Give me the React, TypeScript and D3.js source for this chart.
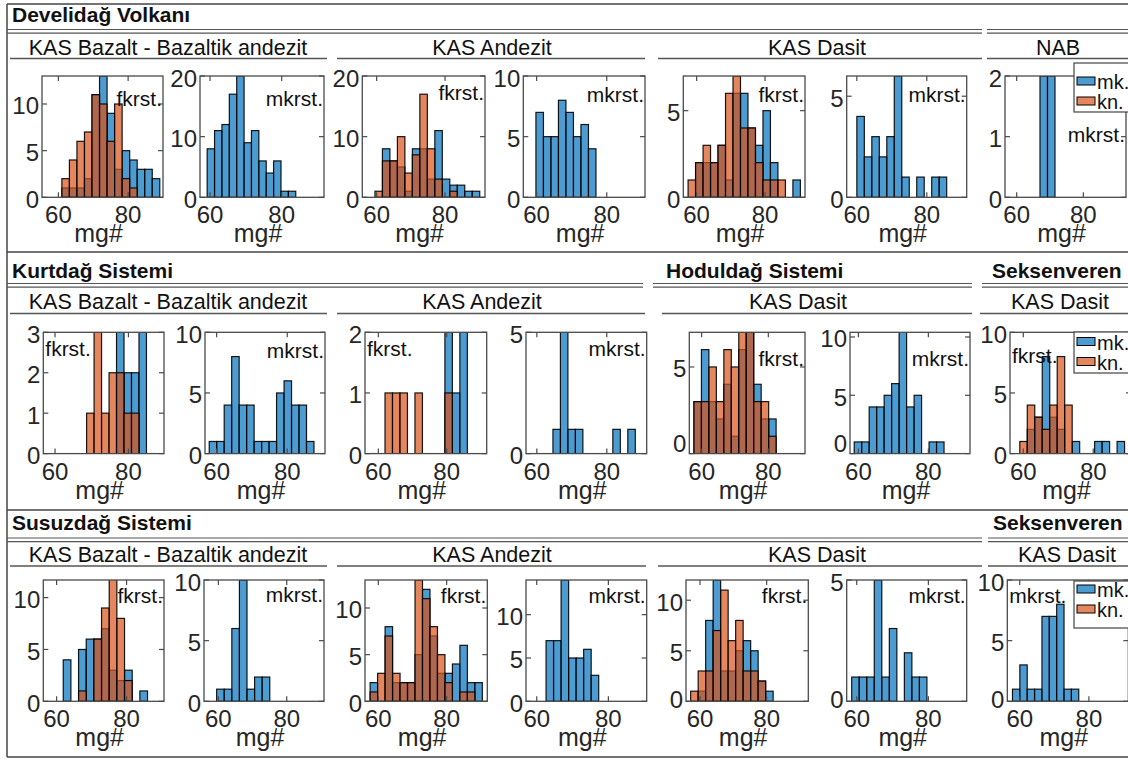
import React from "react";
import * as d3 from "d3";

// mg# histogram counts (mk = blue, kn = orange)
// Develidağ Volkanı
const devBazFkMk = [1, 1, 1, 2, 11, 13, 9, 3, 5, 4, 3, 3, 2];
const devBazFkKn = [2, 4, 6, 7, 11, 10, 6, 10, 2, 1, 0, 0, 0];
const devBazMkMk = [8, 11, 12, 17, 20, 9, 11, 6, 4, 6, 1, 1];
const devAndFkMk = [0, 8, 6, 5, 1, 8, 8, 3, 11, 3, 2, 2, 1, 1];
const devAndFkKn = [1, 6, 6, 10, 4, 7, 17, 8, 3, 0, 1, 0, 0, 0];
const devAndMkMk = [7, 5, 5, 8, 7, 5, 6, 4];
const devDasFkMk = [0, 2, 2, 2, 3, 1, 6, 6, 4, 3, 5, 2, 0, 0, 1];
const devDasFkKn = [1, 2, 3, 2, 3, 6, 7, 4, 4, 2, 1, 1, 1, 0, 0];
const devDasMkMk = [4, 2, 3, 2, 3, 6, 1, 0, 1, 0, 1, 1];
const devNabMkMk = [2, 2];
// Kurtdağ / Hoduldağ / Seksenveren
const kurBazFkMk = [0, 0, 0, 0, 3, 2, 2, 3];
const kurBazFkKn = [1, 3, 1, 2, 2, 1, 1, 0];
const kurBazMkMk = [1, 1, 4, 8, 4, 4, 1, 1, 1, 5, 6, 4, 4, 1];
const kurAndFkMk = [0, 0, 0, 0, 0, 0, 0, 0, 2, 1, 2];
const kurAndFkKn = [1, 1, 1, 0, 1, 0, 0, 0, 1, 0, 0];
const kurAndMkMk = [1, 5, 1, 1, 0, 0, 0, 0, 1, 0, 1];
const hodDasFkMk = [3, 6, 3, 2, 4, 1, 6, 7, 4, 2, 2];
const hodDasFkKn = [3, 3, 5, 3, 6, 5, 7, 7, 3, 3, 1];
const hodDasMkMk = [1, 1, 4, 4, 5, 6, 11, 4, 5, 0, 1, 1];
const sekDasFkMk = [0, 2, 3, 8, 3, 2, 0, 1, 0, 0, 1, 1, 0, 1];
const sekDasFkKn = [1, 4, 3, 2, 4, 8, 4, 0, 0, 0, 0, 0, 0, 0];
// Susuzdağ / Seksenveren
const susBazFkMk = [4, 0, 5, 6, 6, 7, 3, 2, 3, 0, 1];
const susBazFkKn = [0, 0, 1, 0, 6, 9, 12, 8, 2, 0, 0];
const susBazMkMk = [1, 1, 6, 10, 1, 2, 2];
const susAndFkMk = [2, 0, 8, 2, 2, 2, 5, 12, 7, 3, 3, 4, 6, 2, 2];
const susAndFkKn = [1, 3, 7, 3, 2, 2, 13, 11, 8, 5, 2, 0, 1, 1, 0];
const susAndMkMk = [7, 7, 14, 5, 5, 6, 3];
const susDasFkMk = [0, 1, 8, 12, 3, 3, 5, 6, 5, 2, 1];
const susDasFkKn = [1, 3, 3, 7, 11, 6, 8, 3, 3, 2, 0];
const susDasMkMk = [1, 1, 1, 5, 1, 3, 0, 2, 1, 1];
const sekDasMkMk = [1, 3, 1, 1, 7, 7, 8, 1, 1];

// panels in reading order, 7 per row
const mkSeries = [
  devBazFkMk, devBazMkMk, devAndFkMk, devAndMkMk, devDasFkMk, devDasMkMk, devNabMkMk,
  kurBazFkMk, kurBazMkMk, kurAndFkMk, kurAndMkMk, hodDasFkMk, hodDasMkMk, sekDasFkMk,
  susBazFkMk, susBazMkMk, susAndFkMk, susAndMkMk, susDasFkMk, susDasMkMk, sekDasMkMk,
];
const knSeries = [
  devBazFkKn, null, devAndFkKn, null, devDasFkKn, null, null,
  kurBazFkKn, null, kurAndFkKn, null, hodDasFkKn, null, sekDasFkKn,
  susBazFkKn, null, susAndFkKn, null, susDasFkKn, null, null,
];
const binStart = [
  61.0, 59.2, 59.5, 59.8, 57.5, 60.0, 67.0,
  68.6, 57.9, 61.95, 64.6, 57.7, 58.8, 59.0,
  61.9, 59.5, 57.6, 62.6, 57.2, 58.6, 57.9,
];
const binWidth = [
  2.16, 2.06, 2.19, 2.14, 2.19, 2.14, 2.25,
  2.04, 2.12, 2.19, 2.14, 2.24, 2.14, 2.14,
  2.19, 2.22, 2.19, 2.1, 2.25, 2.1, 2.13,
];
const xMin = [
  55.3, 57.2, 55.8, 56.2, 56.1, 57.1, 56.5,
  56.8, 56.7, 56.1, 56.9, 56.3, 57.6, 56.2,
  56.2, 55.8, 56.1, 57.0, 55.8, 57.2, 56.4,
];
const xMax = [
  90.0, 91.8, 91.7, 90.9, 91.7, 91.4, 92.8,
  89.7, 90.7, 91.7, 91.4, 91.0, 91.9, 90.8,
  90.7, 90.9, 91.9, 90.7, 92.5, 90.7, 91.4,
];
const yMax = [
  13, 20, 20, 10, 7, 6, 2,
  3, 10, 2, 5, 7, 10.4, 10,
  11.7, 10, 13, 14, 12, 5, 10,
];
const yTicks = [
  [0, 5, 10], [0, 10, 20], [0, 10, 20], [0, 5, 10], [0, 5], [0, 5], [0, 1, 2],
  [0, 1, 2, 3], [0, 5, 10], [0, 1, 2], [0, 5], [0, 5], [0, 5, 10], [0, 5, 10],
  [0, 5, 10], [0, 5, 10], [0, 5, 10], [0, 5, 10], [0, 5, 10], [0, 5], [0, 5, 10],
];
const xTicks = [60, 80];
const panelLabels = [
  "fkrst.", "mkrst.", "fkrst.", "mkrst.", "fkrst.", "mkrst.", "mkrst.",
  "fkrst.", "mkrst.", "fkrst.", "mkrst.", "fkrst.", "mkrst.", "fkrst.",
  "fkrst.", "mkrst.", "fkrst.", "mkrst.", "fkrst.", "mkrst.", "mkrst.",
];
const legendNames = ["mk.", "kn."];

// headers
const rowTitles = [
  ["Develidağ Volkanı"],
  ["Kurtdağ Sistemi", "Hoduldağ Sistemi", "Seksenveren"],
  ["Susuzdağ Sistemi", "Seksenveren"],
];
const groupTitles = [
  ["KAS Bazalt - Bazaltik andezit", "KAS Andezit", "KAS Dasit", "NAB"],
  ["KAS Bazalt - Bazaltik andezit", "KAS Andezit", "KAS Dasit", "KAS Dasit"],
  ["KAS Bazalt - Bazaltik andezit", "KAS Andezit", "KAS Dasit", "KAS Dasit"],
];

// ---- layout ----
const W = 1128;
const H = 761;
const FONT = "'Liberation Sans', Arial, Helvetica, sans-serif";
const MK_COLOR = "#0072BD";
const KN_COLOR = "#D95319";

const rowGeom = [
  { sep: 4, title: 22, dbl: 29.5, sub: 55, line: 58.5 },
  { sep: 252, title: 278, dbl: 283.5, sub: 309, line: 313.5 },
  { sep: 510, title: 530, dbl: 538, sub: 562, line: 566 },
];
const titleX = [[12], [12, 666, 992], [12, 993]];
const dblSegs = [
  [[7, 982], [987, 1128]],
  [[7, 643], [653, 972], [982, 1128]],
  [[7, 982], [988, 1128]],
];
const subSegs = [
  [[10, 327], [337, 645], [658, 982], [987, 1128]],
  [[10, 327], [337, 645], [662, 972], [980, 1128]],
  [[10, 327], [337, 646], [658, 982], [988, 1128]],
];
const subCx = [
  [168, 492, 817, 1058],
  [168, 482, 798, 1060],
  [168, 492, 817, 1067],
];
const boxTop = [76, 332.3, 580];
const boxH = 121.3;
const boxLeft = [
  [42, 200, 362.3, 523.3, 683.3, 846.7, 1005],
  [43.3, 205, 365, 526, 689.3, 850, 1010],
  [43.3, 204, 365, 526, 686, 846.7, 1007.3],
];
const boxW = [
  [121, 124, 122.7, 121.7, 121.7, 120, 121],
  [120.7, 120, 121.7, 120.7, 115.7, 120, 121],
  [120.7, 120, 122.3, 120.7, 122.3, 120, 121],
];
const labelOnLeft = [7, 9, 13, 20];
const labelDy = [
  30, 30, 24, 26, 26, 26, 66,
  24, 26, 24, 24, 34, 34, 31,
  23, 22, 23, 23, 23, 23, 23,
];
const zeroLift: Record<number, number> = { 11: 12, 12: 12, 18: 4, 19: 4, 20: 4 };
const legendGeom = [
  { top: 63, bottom: 112, cy: 81 },
  { top: 332, bottom: 373, cy: 341.5 },
  { top: 581, bottom: 628, cy: 589 },
];

function Panel({ i }: { i: number }) {
  const row = Math.floor(i / 7);
  const col = i % 7;
  const left = boxLeft[row][col];
  const w = boxW[row][col];
  const top = boxTop[row];
  const x = d3.scaleLinear().domain([xMin[i], xMax[i]]).range([left, left + w]);
  const y = d3.scaleLinear().domain([0, yMax[i]]).range([top + boxH, top]);
  const clipId = `clip-${i}`;

  const bars = (counts: number[] | null, color: string) =>
    (counts || []).map((c, k) => {
      if (c <= 0) return null;
      const a = x(binStart[i] + k * binWidth[i]);
      const b = x(binStart[i] + (k + 1) * binWidth[i]);
      return (
        <rect
          key={`${color}-${k}`}
          x={a}
          width={b - a}
          y={y(c)}
          height={y(0) - y(c)}
          fill={color}
          fillOpacity={0.7}
          stroke="#000"
          strokeOpacity={0.9}
          strokeWidth={1.2}
        />
      );
    });

  const onLeft = labelOnLeft.includes(i);
  const hasLegend = col === 6;
  const lg = legendGeom[row];

  return (
    <g>
      <defs>
        <clipPath id={clipId}>
          <rect x={left} y={top} width={w} height={boxH} />
        </clipPath>
      </defs>
      <g clipPath={`url(#${clipId})`}>
        {bars(mkSeries[i], MK_COLOR)}
        {bars(knSeries[i], KN_COLOR)}
      </g>
      <rect x={left} y={top} width={w} height={boxH} fill="none" stroke="#4a4a4a" strokeWidth={1.3} />
      {yTicks[i].map((t) => (
        <g key={`y${t}`}>
          <line x1={left} x2={left + 5} y1={y(t)} y2={y(t)} stroke="#4a4a4a" strokeWidth={1.2} />
          <line x1={left + w - 5} x2={left + w} y1={y(t)} y2={y(t)} stroke="#4a4a4a" strokeWidth={1.2} />
          <text
            x={left - 3}
            y={y(t) + 2 - (t === 0 ? zeroLift[i] || 0 : 0)}
            textAnchor="end"
            dominantBaseline="central"
            fontSize={24}
            fill="#262626"
          >
            {t}
          </text>
        </g>
      ))}
      {xTicks.map((t) => (
        <g key={`x${t}`}>
          <line x1={x(t)} x2={x(t)} y1={top + boxH} y2={top + boxH - 5} stroke="#4a4a4a" strokeWidth={1.2} />
          <line x1={x(t)} x2={x(t)} y1={top} y2={top + 5} stroke="#4a4a4a" strokeWidth={1.2} />
          <text x={x(t)} y={top + boxH + 26} textAnchor="middle" fontSize={24} fill="#262626">
            {t}
          </text>
        </g>
      ))}
      <text x={left + w / 2 - 4} y={top + boxH + 45} textAnchor="middle" fontSize={25} fill="#262626">
        mg#
      </text>
      <text
        x={onLeft ? left + 2 : left + w - 1}
        y={top + labelDy[i]}
        textAnchor={onLeft ? "start" : "end"}
        fontSize={21}
        fill="#111"
      >
        {panelLabels[i]}
      </text>
      {hasLegend && (
        <g>
          <rect x={1074} y={lg.top} width={80} height={lg.bottom - lg.top} fill="#fff" stroke="#444" strokeWidth={1.2} />
          {legendNames.map((name, k) => (
            <g key={name}>
              <rect
                x={1077}
                y={lg.cy + k * 20 - 4}
                width={18}
                height={8}
                fill={k === 0 ? MK_COLOR : KN_COLOR}
                fillOpacity={0.7}
                stroke="#000"
                strokeWidth={1}
              />
              <text x={1097} y={lg.cy + k * 20 + 1} dominantBaseline="central" fontSize={20} fill="#111">
                {name}
              </text>
            </g>
          ))}
        </g>
      )}
    </g>
  );
}

export default function App() {
  const panelIdx = d3.range(mkSeries.length);
  return (
    <svg
      width={W}
      height={H}
      fontFamily={FONT}
      style={{ position: "absolute", left: 0, top: 0, background: "#fff" }}
    >
      <rect width={W} height={H} fill="#fff" />
      {/* outer frame */}
      <line x1={7} x2={W} y1={rowGeom[0].sep} y2={rowGeom[0].sep} stroke="#444" strokeWidth={1.5} />
      <line x1={7} x2={W} y1={757} y2={757} stroke="#444" strokeWidth={1.5} />
      <line x1={7} x2={7} y1={rowGeom[0].sep} y2={757} stroke="#444" strokeWidth={1.5} />

      {rowGeom.map((g, r) => (
        <g key={r}>
          {r > 0 && <line x1={7} x2={W} y1={g.sep} y2={g.sep} stroke="#444" strokeWidth={1.5} />}
          {rowTitles[r].map((t, k) => (
            <text key={t + k} x={titleX[r][k]} y={g.title} fontSize={21} fontWeight="bold" fill="#111">
              {t}
            </text>
          ))}
          {dblSegs[r].map(([a, b], k) => (
            <g key={`d${k}`} stroke="#555" strokeWidth={1.2}>
              <line x1={a} x2={b} y1={g.dbl} y2={g.dbl} />
              <line x1={a} x2={b} y1={g.dbl + 3.7} y2={g.dbl + 3.7} />
            </g>
          ))}
          {subSegs[r].map(([a, b], k) => (
            <g key={`s${k}`}>
              <line x1={a} x2={b} y1={g.line} y2={g.line} stroke="#555" strokeWidth={1.5} />
              <text x={subCx[r][k]} y={g.sub} textAnchor="middle" fontSize={21.5} fill="#111">
                {groupTitles[r][k]}
              </text>
            </g>
          ))}
        </g>
      ))}

      {panelIdx.map((i) => (
        <Panel key={i} i={i} />
      ))}
    </svg>
  );
}
